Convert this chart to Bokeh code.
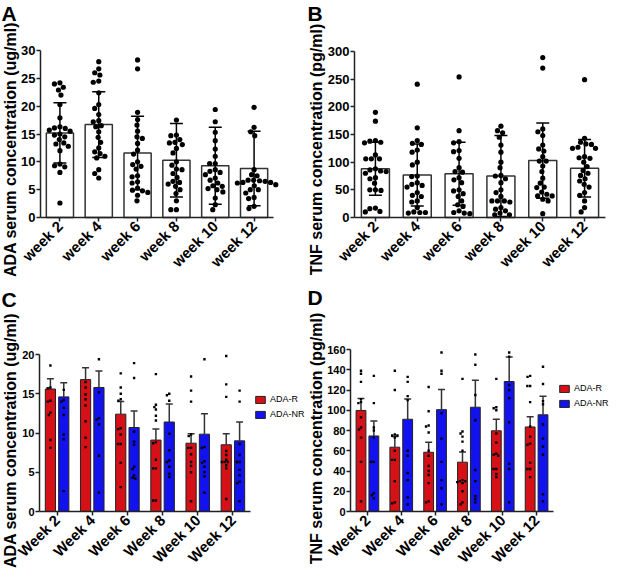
import math
from bokeh.plotting import figure
from bokeh.models import Range1d, FixedTicker, Legend, LegendItem
from bokeh.layouts import row, column
from bokeh.core.properties import value
from bokeh.embed import file_html
from bokeh.resources import INLINE

FONT = "Liberation Sans"

weeks_a = ["week 2", "week 4", "week 6", "week 8", "week 10", "week 12"]
weeks_c = ["Week 2", "Week 4", "Week 6", "Week 8", "Week 10", "Week 12"]

# ---------------- Panel A : ADA (all patients) ----------------
ada_mean = [15.2, 16.7, 11.6, 10.3, 9.3, 8.8]
ada_sd = [5.4, 5.9, 6.6, 6.6, 6.9, 6.7]
ada_w2 = [24.0, 24.2, 23.4, 22.9, 22.0, 20.3, 17.9, 16.3, 16.1, 16.0, 15.7, 15.5, 15.0, 14.8, 14.5, 14.0, 13.4, 13.2, 12.8, 12.0, 9.6, 9.3, 9.1, 8.1, 2.6]
ada_w4 = [28.0, 26.7, 26.0, 25.6, 24.5, 24.3, 22.4, 20.3, 19.6, 18.5, 17.4, 17.2, 16.5, 16.3, 15.4, 14.4, 13.5, 12.5, 11.8, 11.5, 11.0, 10.7, 8.6, 7.9, 7.1]
ada_w6 = [28.3, 26.7, 18.9, 17.6, 16.6, 15.5, 14.5, 14.2, 13.3, 12.1, 11.4, 10.0, 9.5, 9.2, 8.7, 7.5, 7.3, 6.4, 6.2, 5.3, 4.9, 4.8, 4.5, 4.0, 3.0]
ada_w8 = [17.5, 14.8, 14.7, 14.0, 13.5, 13.4, 13.1, 12.4, 11.6, 10.0, 9.4, 8.7, 8.6, 7.9, 7.2, 6.5, 6.3, 6.0, 5.6, 5.0, 4.3, 3.0, 1.4, 1.4]
ada_w10 = [19.4, 17.2, 15.3, 13.8, 12.3, 11.0, 9.7, 9.7, 8.6, 8.3, 8.1, 7.7, 7.1, 6.7, 6.2, 5.7, 5.6, 5.2, 5.0, 4.6, 3.5, 2.3, 1.4]
ada_w12 = [19.8, 16.2, 15.4, 14.7, 8.6, 7.7, 7.5, 6.7, 6.7, 6.6, 6.5, 6.3, 6.3, 6.2, 5.9, 5.7, 5.0, 5.0, 4.4, 3.6, 3.4, 2.0, 1.6]
ada_points = [ada_w2, ada_w4, ada_w6, ada_w8, ada_w10, ada_w12]

# ---------------- Panel B : TNF (all patients) ----------------
tnf_mean = [88, 77, 79, 75, 103, 89]
tnf_sd = [48, 56, 57, 73, 68, 52]
tnf_w2 = [190, 174, 139, 138, 136, 135, 113, 106, 106, 106, 88, 86, 84, 83, 80, 72, 70, 62, 50, 50, 49, 17, 16, 11, 10]
tnf_w4 = [241, 162, 139, 134, 132, 122, 118, 100, 95, 75, 74, 63, 60, 58, 55, 45, 40, 38, 30, 28, 18, 10, 9, 9, 8]
tnf_w6 = [254, 157, 137, 135, 121, 119, 107, 90, 83, 82, 72, 68, 63, 50, 48, 43, 38, 30, 23, 20, 12, 9, 8, 7]
tnf_w8 = [165, 157, 153, 145, 131, 118, 100, 90, 76, 75, 70, 63, 50, 45, 38, 30, 30, 30, 28, 18, 15, 12, 8, 5, 5]
tnf_w10 = [289, 270, 160, 155, 148, 131, 124, 120, 110, 102, 102, 93, 83, 71, 62, 55, 54, 46, 42, 39, 39, 33, 30, 7]
tnf_w12 = [249, 143, 136, 133, 132, 127, 125, 125, 110, 108, 107, 100, 92, 85, 80, 76, 70, 66, 60, 55, 45, 40, 30, 18, 10]
tnf_points = [tnf_w2, tnf_w4, tnf_w6, tnf_w8, tnf_w10, tnf_w12]

# ---------------- Panel C : ADA by response ----------------
series = ["ADA-R", "ADA-NR"]
ada_r_mean = [15.6, 16.8, 12.4, 9.1, 8.7, 8.5]
ada_r_sem = [1.3, 1.5, 1.6, 1.4, 1.2, 1.4]
ada_nr_mean = [14.6, 15.8, 10.7, 11.4, 9.85, 9.0]
ada_nr_sem = [1.8, 2.1, 2.1, 2.3, 2.6, 2.4]
ada_r_points = [
    [18.6, 15.8, 15.7, 14.1, 14.0, 12.6, 12.3, 9.1, 8.1],
    [16.5, 15.8, 14.9, 14.3, 13.5, 11.5, 9.4, 8.2],
    [17.6, 15.8, 15.0, 14.3, 14.1, 10.6, 10.5, 9.8, 8.6, 8.6, 6.2, 3.1],
    [17.5, 13.6, 13.3, 13.0, 12.2, 11.6, 8.8, 8.7, 6.6, 5.5, 5.5, 1.4, 1.4],
    [17.2, 15.4, 14.0, 9.8, 9.6, 8.1, 8.1, 7.3, 6.3, 5.8, 5.0, 1.3],
    [19.8, 16.2, 14.6, 7.7, 7.2, 6.6, 6.3, 6.3, 6.3, 5.9, 5.5, 1.6],
]
ada_nr_points = [
    [15.5, 14.2, 14.0, 13.2, 12.3, 9.8, 9.2, 2.6],
    [19.4, 15.2, 11.9, 11.7, 11.1, 7.1, 2.4],
    [18.9, 17.0, 10.2, 8.9, 8.5, 5.7, 5.4, 4.6, 4.3, 4.2],
    [15.0, 14.8, 14.1, 9.9, 7.8, 6.5, 6.3, 5.7, 4.8, 4.4],
    [19.4, 8.2, 8.1, 6.4, 6.2, 5.7, 5.0, 4.5, 2.4],
    [15.4, 14.0, 8.6, 7.2, 6.3, 6.3, 5.3, 4.6, 3.8, 3.6, 1.3],
]

# ---------------- Panel D : TNF by response ----------------
tnf_r_mean = [99.8, 63.5, 58.5, 48.7, 79.7, 83.5]
tnf_r_sem = [11.8, 10.5, 9.8, 10.1, 11.3, 10.1]
tnf_nr_mean = [74.6, 91.1, 100.6, 103.0, 128.4, 95.5]
tnf_nr_sem = [14.9, 19.9, 19.9, 26.6, 24.3, 18.3]
tnf_r_points = [
    [139, 136, 128, 111, 108, 107, 93, 83, 81, 73, 49, 10],
    [139, 120, 76, 75, 75, 73, 60, 51, 51, 30, 9, 8],
    [123, 99, 85, 84, 78, 60, 55, 45, 40, 36, 28, 10, 9],
    [131, 79, 77, 74, 69, 60, 31, 30, 30, 29, 28, 20, 9, 7],
    [131, 103, 102, 100, 77, 68, 57, 56, 55, 42, 42, 37, 34],
    [134, 133, 124, 124, 108, 84, 74, 67, 66, 48, 42, 42, 34],
]
tnf_nr_points = [
    [134, 107, 83, 80, 73, 49, 49, 18, 16, 13],
    [133, 128, 114, 110, 60, 55, 38, 31, 14, 7],
    [157, 139, 136, 97, 72, 49, 31, 23, 7],
    [155, 145, 115, 90, 41, 30, 15, 12, 9],
    [157, 153, 125, 120, 112, 88, 47, 42, 9],
    [143, 126, 109, 106, 86, 72, 64, 56, 17, 10],
]

RED = "#d51016"
BLUE = "#1212ee"


def swarm(vals, py, px, d):
    """Beeswarm offsets (in x data units) for values, given px per unit."""
    placed = []
    offs = [0.0] * len(vals)
    order = sorted(range(len(vals)), key=lambda i: -vals[i])
    for i in order:
        y = vals[i] * py
        intervals = []
        cands = [0.0]
        for x0, y0 in placed:
            dy = abs(y0 - y)
            if dy < d:
                h = math.sqrt(d * d - dy * dy)
                intervals.append((x0 - h, x0 + h))
                cands += [x0 - h, x0 + h]
        cands.sort(key=lambda c: (abs(c), c))
        x = 0.0
        for c in cands:
            if all(not (a + 1e-6 < c < b - 1e-6) for a, b in intervals):
                x = c
                break
        placed.append((x, y))
        offs[i] = x / px
    return offs


class Panel:
    """One panel: a figure whose frame spans the whole figure; both axes are pinned
    (fixed_location) to the corner of the week groups."""

    def __init__(self, left, top, w, h, axis_left, cat_right, y0, ytop, ymax, yticks,
                 xlabels, tick_size):
        n = len(xlabels)
        self.left, self.top, self.y0 = left, top, y0
        self.axis_left = axis_left
        self.px = (cat_right - axis_left) / n
        self.py = (y0 - ytop) / ymax
        x_start = -0.5 - (axis_left - left) / self.px
        x_end = n - 0.5 + (left + w - cat_right) / self.px
        y_end = ymax + (ytop - top) / self.py
        y_start = -(top + h - y0) / self.py
        p = figure(width=w, height=h, x_range=Range1d(x_start, x_end), y_range=Range1d(y_start, y_end),
                   output_backend="svg", toolbar_location=None,
                   min_border_left=0, min_border_right=0, min_border_top=0, min_border_bottom=0)
        p.xgrid.visible = False
        p.ygrid.visible = False
        p.outline_line_color = None
        for ax in (p.xaxis[0], p.yaxis[0]):
            ax.axis_line_color = "#222222"
            ax.axis_line_width = 1.5
            ax.major_tick_line_color = "#222222"
            ax.major_tick_line_width = 1.5
            ax.major_tick_in = 0
            ax.major_tick_out = 4
            ax.minor_tick_line_color = None
            ax.major_label_text_font = FONT
            ax.major_label_text_font_style = "bold"
            ax.major_label_text_color = "black"
            ax.major_label_standoff = 1
        p.yaxis.fixed_location = -0.5
        p.yaxis.bounds = (0, ymax)
        p.yaxis.ticker = FixedTicker(ticks=yticks)
        p.yaxis.major_label_text_font_size = tick_size
        p.xaxis.fixed_location = 0
        p.xaxis.ticker = FixedTicker(ticks=list(range(n)))
        p.xaxis.bounds = (-0.5, n - 0.5)
        p.xaxis.major_label_overrides = {i: lab for i, lab in enumerate(xlabels)}
        p.xaxis.major_label_orientation = math.pi / 4
        p.xaxis.major_label_text_font_size = "15px"
        p.xaxis.major_label_standoff = 2
        self.p = p

    def dx(self, page_x):
        return -0.5 + (page_x - self.axis_left) / self.px

    def dy(self, page_y):
        return (self.y0 - page_y) / self.py

    def texts(self, letter, lx, ly, label, cx, cy):
        self.p.text(x=[self.dx(lx)], y=[self.dy(ly)], text=[letter], text_font=value(FONT),
                    text_font_style="bold", text_font_size="21px", text_color="black",
                    text_baseline="top", text_align="left")
        self.p.text(x=[self.dx(cx)], y=[self.dy(cy)], text=[label], angle=math.pi / 2,
                    text_font=value(FONT), text_font_style="bold", text_font_size="16px",
                    text_color="black", text_baseline="middle", text_align="center")


def overview(pn, means, sds, points, bar_w):
    p = pn.p
    xs = list(range(len(means)))
    p.vbar(x=xs, top=means, width=bar_w, bottom=0, fill_color="white",
           line_color="#333333", line_width=1.5)
    lo = [m - s for m, s in zip(means, sds)]
    hi = [m + s for m, s in zip(means, sds)]
    p.segment(x0=xs, y0=lo, x1=xs, y1=hi, line_color="black", line_width=1.5)
    p.scatter(x=xs, y=hi, marker="dash", size=13, line_color="black", line_width=1.5)
    p.scatter(x=xs, y=lo, marker="dash", size=13, line_color="black", line_width=1.5)
    dx, dy = [], []
    for i, vals in enumerate(points):
        offs = swarm(vals, pn.py, pn.px, 5.6)
        dx += [i + o for o in offs]
        dy += vals
    p.scatter(x=dx, y=dy, marker="circle", size=5.2, fill_color="black", line_color=None)


def grouped(pn, rmean, rsem, nrmean, nrsem, rpts, nrpts, leg_x, leg_y):
    p = pn.p
    n = len(rmean)
    off, bw = 0.19, 0.29
    rends = []
    for means, sems, pts, col, sgn in ((rmean, rsem, rpts, RED, -1), (nrmean, nrsem, nrpts, BLUE, 1)):
        xs = [i + sgn * off for i in range(n)]
        r = p.vbar(x=xs, top=means, width=bw, bottom=0, fill_color=col, line_color="#222222", line_width=1)
        rends.append(r)
        up = [m + s for m, s in zip(means, sems)]
        p.segment(x0=xs, y0=means, x1=xs, y1=up, line_color="#333333", line_width=1.5)
        p.scatter(x=xs, y=up, marker="dash", size=7, line_color="#333333", line_width=1.5)
        dx, dy = [], []
        for i, vals in enumerate(pts):
            offs = swarm(vals, pn.py, pn.px, 2.8)
            dx += [xs[i] + o for o in offs]
            dy += vals
        p.scatter(x=dx, y=dy, marker="square", size=2.4, fill_color="black", line_color=None)
    fig_bottom = pn.top + p.height
    legend = Legend(items=[LegendItem(label=series[0], renderers=[rends[0]]),
                           LegendItem(label=series[1], renderers=[rends[1]])],
                    location=(leg_x - pn.left, fig_bottom - leg_y), glyph_width=12, glyph_height=9,
                    label_text_font=FONT, label_text_font_size="9px", label_text_color="black",
                    label_standoff=4, label_height=9, spacing=5, padding=0, margin=0,
                    border_line_color=None, background_fill_alpha=0)
    p.add_layout(legend, "center")


# ---- layout in page pixels (page has an 8px margin) ----
pA = Panel(8, 8, 306, 280, 48, 281, 225, 58, 30, [0, 5, 10, 15, 20, 25, 30], weeks_a, "13px")
overview(pA, ada_mean, ada_sd, ada_points, 0.7)
pA.texts("A", 9, 9, "ADA serum concentration (ug/ml)", 18, 157)

pB = Panel(314, 8, 303, 280, 362, 613, 225, 59, 300, [0, 50, 100, 150, 200, 250, 300], weeks_a, "13px")
overview(pB, tnf_mean, tnf_sd, tnf_points, 0.67)
pB.texts("B", 315, 9, "TNF serum concentration (pg/ml)", 324, 157)

pC = Panel(8, 288, 306, 292, 47, 258, 519, 362, 20, [0, 5, 10, 15, 20], weeks_c, "11px")
grouped(pC, ada_r_mean, ada_r_sem, ada_nr_mean, ada_nr_sem, ada_r_points, ada_nr_points, 262, 427)
pC.texts("C", 9, 295, "ADA serum concentration (ug/ml)", 18, 448)

pD = Panel(314, 288, 303, 292, 358, 561, 519, 357, 160, [0, 20, 40, 60, 80, 100, 120, 140, 160], weeks_c, "11px")
grouped(pD, tnf_r_mean, tnf_r_sem, tnf_nr_mean, tnf_nr_sem, tnf_r_points, tnf_nr_points, 566, 416)
pD.texts("D", 315, 293, "TNF serum concentration (pg/ml)", 324, 446)

layout = column(row(pA.p, pB.p), row(pC.p, pD.p))
open("out.html", "w").write(file_html(layout, INLINE))
